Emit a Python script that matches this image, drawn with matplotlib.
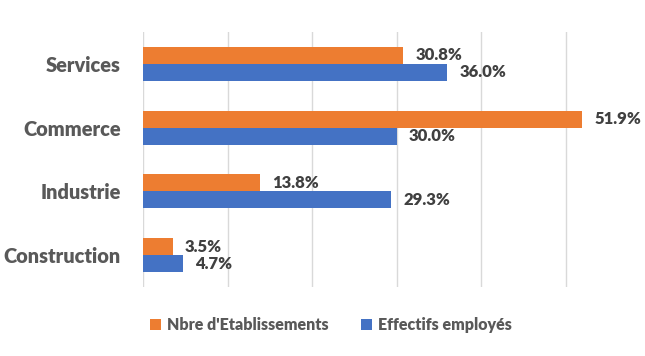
import matplotlib
matplotlib.use('Agg')
import matplotlib.pyplot as plt
import numpy as np

# Donnees
categories = ['Services', 'Commerce', 'Industrie', 'Construction']
etablissements = [30.8, 51.9, 13.8, 3.5]
effectifs = [36.0, 30.0, 29.3, 4.7]
series = ["Nbre d'Etablissements", 'Effectifs employés']
couleurs = ['#ED7D31', '#4472C4']

plt.rcParams['font.family'] = ['Lato', 'DejaVu Sans']

fig = plt.figure(figsize=(6.45, 3.56), dpi=100)
ax = fig.add_axes((143 / 645, 1 - 287 / 356, 507 / 645, 255 / 356))

y = np.arange(len(categories))[::-1]
h = 0.265
b1 = ax.barh(y + h / 2, etablissements, height=h, color=couleurs[0], label=series[0], zorder=2)
b2 = ax.barh(y - h / 2, effectifs, height=h, color=couleurs[1], label=series[1], zorder=2)

# Etiquettes de donnees
for bars, vals in [(b1, etablissements), (b2, effectifs)]:
    ax.bar_label(bars, labels=[f'{v:.1f}%' for v in vals], padding=9,
                 fontsize=12, fontweight='heavy', color='#404040')

ax.set_xlim(0, 60)
ax.set_ylim(-0.5, 3.5)
ax.set_xticks(np.arange(0, 61, 10))
ax.xaxis.grid(True, color='#D9D9D9', lw=1, zorder=0)
ax.tick_params(axis='x', length=0, labelbottom=False)
ax.tick_params(axis='y', length=0, pad=16)
ax.set_yticks(y)
ax.set_yticklabels(categories, fontsize=14.4, fontweight='heavy', color='#595959')
for s in ax.spines.values():
    s.set_visible(False)

leg = fig.legend(loc='center', bbox_to_anchor=(331 / 645, 1 - 325 / 356), ncol=2,
                 frameon=False, handlelength=0.7, handleheight=0.7, handletextpad=0.4,
                 columnspacing=2.0, prop={'size': 11.5, 'weight': 'heavy'})
for t in leg.get_texts():
    t.set_color('#595959')

fig.savefig('out.png', dpi=100)
